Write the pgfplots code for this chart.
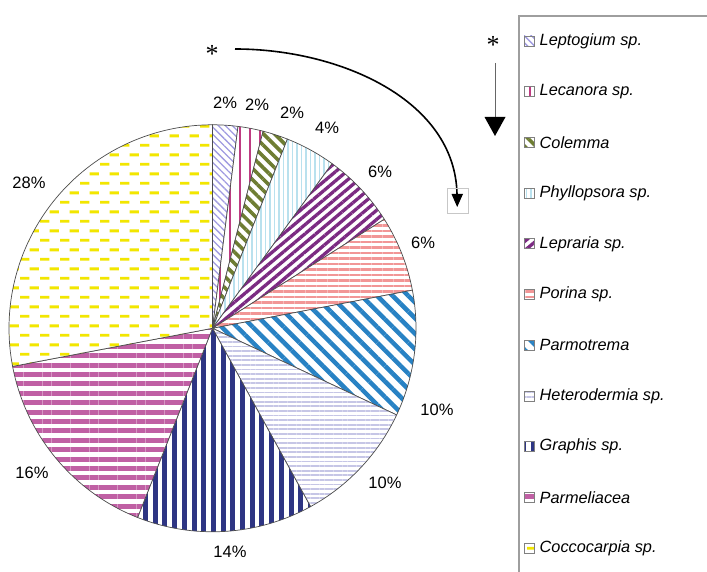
\documentclass[border=0pt]{standalone}
\usepackage{fontspec}
\setmainfont{Liberation Sans}
\newfontfamily\seriffont{Liberation Serif}
\usepackage{pgfplots}
\pgfplotsset{compat=1.18}
\usepackage{pgfplotstable}
\usetikzlibrary{patterns.meta}

\definecolor{cLep}{RGB}{160,155,225}
\definecolor{cLec}{RGB}{190,60,130}
\definecolor{cCol}{RGB}{110,125,50}
\definecolor{cPhy}{RGB}{185,225,238}
\definecolor{cLepr}{RGB}{123,42,130}
\definecolor{cPor}{RGB}{242,150,150}
\definecolor{cPar}{RGB}{40,130,196}
\definecolor{cHet}{RGB}{198,198,230}
\definecolor{cGra}{RGB}{46,53,131}
\definecolor{cPme}{RGB}{192,96,164}
\definecolor{cCoc}{RGB}{242,230,0}

\pgfdeclarepattern{
  name=ydash,
  type=uncolored,
  bottom left={\pgfpoint{0pt}{0pt}},
  top right={\pgfpoint{19.5pt}{19.4pt}},
  tile size={\pgfpoint{19.5pt}{19.4pt}},
  code={
    \pgfsetlinewidth{3pt}
    \pgfpathmoveto{\pgfpoint{0pt}{4.85pt}}\pgfpathlineto{\pgfpoint{9.5pt}{4.85pt}}
    \pgfpathmoveto{\pgfpoint{9.75pt}{14.55pt}}\pgfpathlineto{\pgfpoint{19.25pt}{14.55pt}}
    \pgfusepath{stroke}
  }
}

\tikzset{
  pat0/.style={pattern={Lines[angle=-45,distance=5pt,line width=1.3pt]},pattern color=cLep},
  pat1/.style={pattern={Lines[angle=90,distance=10pt,line width=2.2pt]},pattern color=cLec},
  pat2/.style={pattern={Lines[angle=-45,distance=8pt,line width=3.6pt]},pattern color=cCol},
  pat3/.style={pattern={Lines[angle=90,distance=4.5pt,line width=1.4pt]},pattern color=cPhy},
  pat4/.style={pattern={Lines[angle=40,distance=7pt,line width=3.3pt]},pattern color=cLepr},
  pat5/.style={pattern={Lines[angle=0,distance=5.5pt,line width=2.5pt]},pattern color=cPor},
  pat6/.style={pattern={Lines[angle=-45,distance=11pt,line width=4.5pt]},pattern color=cPar},
  pat7/.style={pattern={Lines[angle=0,distance=4.6pt,line width=1.8pt]},pattern color=cHet},
  pat8/.style={pattern={Lines[angle=90,distance=9.7pt,line width=5pt]},pattern color=cGra},
  pat9/.style={pattern={Lines[angle=0,distance=9.4pt,line width=5pt]},pattern color=cPme},
  pat10/.style={pattern=ydash,pattern color=cCoc},
}

% name, share (%), label position (px from left, px from top)
\pgfplotstableread[col sep=comma]{
name,pct,lx,ly
Leptogium sp.,2,225,103
Lecanora sp.,2,257,105
Colemma,2,292,113
Phyllopsora sp.,4,327,128
Lepraria sp.,6,380,172
Porina sp.,6,423,243
Parmotrema,10,437,410
Heterodermia sp.,10,385,483
Graphis sp.,14,230,552
Parmeliacea,16,32,473
Coccocarpia sp.,28,29,183
}\piedata

\begin{document}
\begin{tikzpicture}
\useasboundingbox (0,0) rectangle (707pt,572pt);
\begin{axis}[at={(0,0)},anchor=south west,width=707pt,height=572pt,
  scale only axis,xmin=0,xmax=707,ymin=0,ymax=572,hide axis,clip=false]
\pgfplotsextra{%
  \gdef\cum{0}%
  \foreach \i in {0,...,10}{%
    \pgfplotstablegetelem{\i}{pct}\of\piedata \let\p\pgfplotsretval
    \pgfplotstablegetelem{\i}{lx}\of\piedata \let\lx\pgfplotsretval
    \pgfplotstablegetelem{\i}{ly}\of\piedata \let\ly\pgfplotsretval
    \pgfplotstablegetelem{\i}{name}\of\piedata \let\nm\pgfplotsretval
    \pgfmathsetmacro\aone{90-3.6*\cum}%
    \pgfmathsetmacro\atwo{90-3.6*(\cum+\p)}%
    \fill[white] (axis cs:212.5,243.7) -- +(\aone:203.5pt) arc[start angle=\aone,end angle=\atwo,radius=203.5pt] -- cycle;
    \fill[pat\i] (axis cs:212.5,243.7) -- +(\aone:203.5pt) arc[start angle=\aone,end angle=\atwo,radius=203.5pt] -- cycle;
    \draw[black!70,line width=0.7pt] (axis cs:212.5,243.7) -- +(\aone:203.5pt) arc[start angle=\aone,end angle=\atwo,radius=203.5pt] -- cycle;
    \pgfmathsetmacro\lyy{572-\ly}%
    \node[font=\fontsize{16.5}{19}\selectfont] at (axis cs:\lx,\lyy) {\p\%};
    % legend entry
    \pgfmathsetmacro\ey{572-(41+50.7*\i)}%
    \pgfmathsetmacro\eyb{\ey-5}%
    \pgfmathsetmacro\eyt{\ey+5}%
    \fill[white] (axis cs:524,\eyb) rectangle (axis cs:534,\eyt);
    \fill[pat\i] (axis cs:524,\eyb) rectangle (axis cs:534,\eyt);
    \draw[black!50,line width=0.6pt] (axis cs:524,\eyb) rectangle (axis cs:534,\eyt);
    \node[anchor=west,font=\fontsize{16.3}{19}\selectfont\itshape,inner sep=0pt] at (axis cs:539.5,\ey) {\nm};
    \pgfmathsetmacro\newcum{\cum+\p}%
    \xdef\cum{\newcum}%
  }%
  % legend frame
  \draw[black!38,line width=1.8pt] (axis cs:519,-5) -- (axis cs:519,556) -- (axis cs:715,556);
  % curved arrow
  \node[font=\seriffont\fontsize{26}{26}\selectfont,inner sep=0pt] at (axis cs:212,518) {*};
  \draw[line width=1.6pt] (axis cs:235,523) .. controls (axis cs:340,523) and (axis cs:455,472) .. (axis cs:457,378);
  \fill (axis cs:451.5,378) -- (axis cs:463,378) -- (axis cs:457.2,365) -- cycle;
  \draw[black!22,line width=0.8pt] (axis cs:447,359) rectangle (axis cs:468,384);
  % straight arrow
  \node[font=\seriffont\fontsize{26}{26}\selectfont,inner sep=0pt] at (axis cs:493,527) {*};
  \draw[black!60,line width=0.8pt] (axis cs:495,509) -- (axis cs:495,455);
  \fill (axis cs:484.5,455) -- (axis cs:505.5,455) -- (axis cs:495,436) -- cycle;
}
\end{axis}
\end{tikzpicture}
\end{document}
